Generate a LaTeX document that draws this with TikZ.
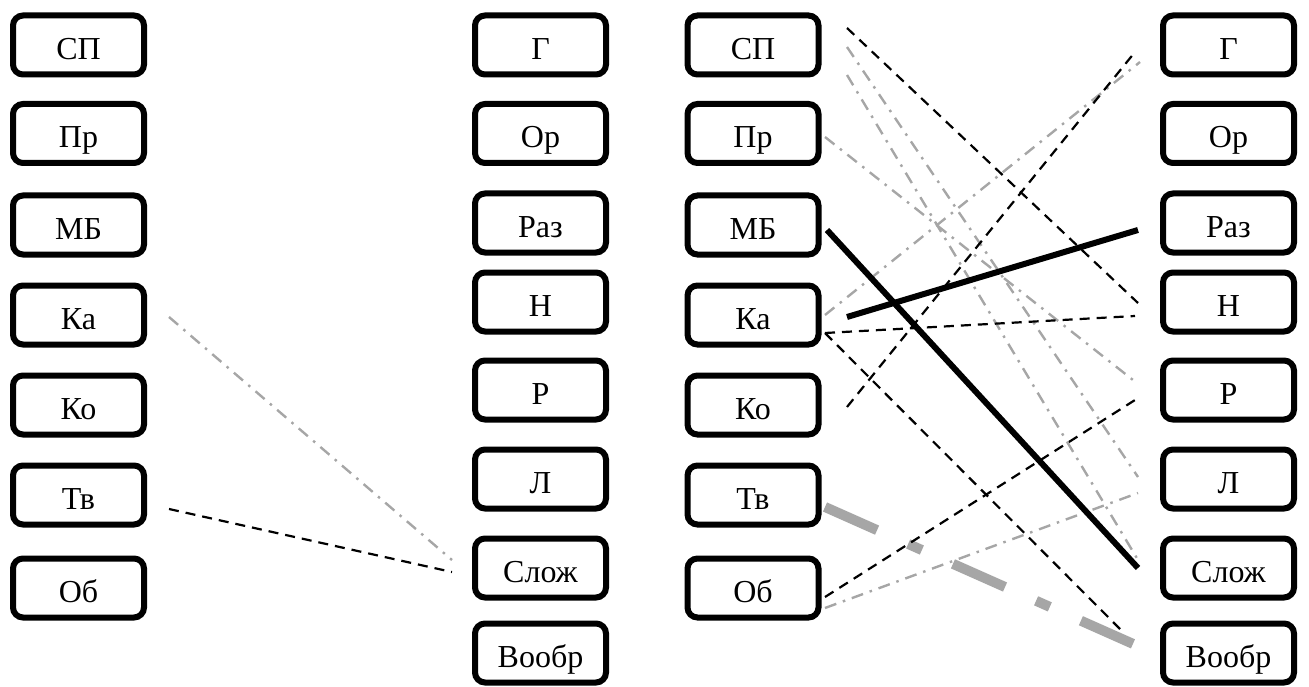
\documentclass[tikz,border=0pt]{standalone}
\usepackage{fontspec}
\setmainfont{Liberation Serif}
\usetikzlibrary{calc}
\definecolor{linkgray}{RGB}{166,166,166}
\begin{document}
\begin{tikzpicture}[x=1pt,y=-1pt,
  item/.style={draw, line width=6pt, rounded corners=10pt,
    minimum width=131pt, minimum height=59pt, inner sep=0pt, outer sep=0pt,
    text height=29pt, text depth=0pt, font=\fontsize{32}{36}\selectfont},
  bdash/.style={line width=2.2pt, dash pattern=on 10pt off 7pt},
  gdashdot/.style={linkgray, line width=2.4pt, dash pattern=on 12pt off 7pt on 2.5pt off 7pt},
  bsolid/.style={line width=6pt},
  gheavy/.style={linkgray, line width=10pt, dash pattern=on 57pt off 34pt on 15pt off 34pt}]
\useasboundingbox (0,0) rectangle (1309,687);

% first pair of columns
\node[item] (lsp) at (78.5,45)  {СП};
\node[item] (lpr) at (78.5,133.5) {Пр};
\node[item] (lmb) at (78.5,225) {МБ};
\node[item] (lka) at (78.5,315) {Ка};
\node[item] (lko) at (78.5,405) {Ко};
\node[item] (ltv) at (78.5,495) {Тв};
\node[item] (lob) at (78.5,588) {Об};

\node[item] (lg)   at (540.5,45)    {Г};
\node[item] (lor)  at (540.5,133.5) {Ор};
\node[item] (lraz) at (540.5,223)   {Раз};
\node[item] (ln)   at (540.5,302)   {Н};
\node[item] (lr)   at (540.5,390)   {Р};
\node[item] (ll)   at (540.5,479)   {Л};
\node[item] (lsl)  at (540.5,568)   {Слож};
\node[item] (lvo)  at (540.5,653)   {Вообр};

% second pair of columns
\node[item] (rsp) at (753,45)  {СП};
\node[item] (rpr) at (753,133.5) {Пр};
\node[item] (rmb) at (753,225) {МБ};
\node[item] (rka) at (753,315) {Ка};
\node[item] (rko) at (753,405) {Ко};
\node[item] (rtv) at (753,495) {Тв};
\node[item] (rob) at (753,588) {Об};

\node[item] (rg)   at (1228.5,45)    {Г};
\node[item] (ror)  at (1228.5,133.5) {Ор};
\node[item] (rraz) at (1228.5,223)   {Раз};
\node[item] (rn)   at (1228.5,302)   {Н};
\node[item] (rr)   at (1228.5,390)   {Р};
\node[item] (rl)   at (1228.5,479)   {Л};
\node[item] (rsl)  at (1228.5,568)   {Слож};
\node[item] (rvo)  at (1228.5,653)   {Вообр};

% links, left part
\draw[gdashdot] ($(lka.east)+(25,2)$) -- ($(lsl.west)+(-23,-8)$);
\draw[bdash]    ($(ltv.east)+(25,14)$) -- ($(lsl.west)+(-23,4)$);

% links, right part
\draw[gheavy]   ($(rtv.east)+(6.5,12)$) -- ($(rvo.west)+(-23,-6)$);
\draw[bdash]    ($(rsp.east)+(28.5,-17)$) -- ($(rn.west)+(-25,1)$);
\draw[gdashdot] ($(rsp.east)+(28.5,2)$) -- ($(rl.west)+(-25,-2)$);
\draw[gdashdot] ($(rsp.east)+(28.5,30)$) -- ($(rsl.west)+(-25,-8)$);
\draw[gdashdot] ($(rpr.east)+(6.5,3.5)$) -- ($(rr.west)+(-30,-10)$);
\draw[gdashdot] ($(rka.east)+(6.5,0)$) -- ($(rg.west)+(-23,17)$);
\draw[bdash]    ($(rko.east)+(28.5,2)$) -- ($(rg.west)+(-28,7)$);
\draw[bdash]    ($(rka.east)+(6.5,18)$) -- ($(rn.west)+(-28,14)$);
\draw[bdash]    ($(rka.east)+(6.5,18)$) -- ($(rvo.west)+(-40,-21)$);
\draw[bdash]    ($(rob.east)+(6.5,9)$) -- ($(rr.west)+(-28,10)$);
\draw[gdashdot] ($(rob.east)+(6.5,20)$) -- ($(rl.west)+(-25,14)$);
\draw[bsolid]   ($(rmb.east)+(8.5,5)$) -- ($(rsl.west)+(-25,0)$);
\draw[bsolid]   ($(rka.east)+(28.5,2)$) -- ($(rraz.west)+(-25,7)$);
\end{tikzpicture}
\end{document}
